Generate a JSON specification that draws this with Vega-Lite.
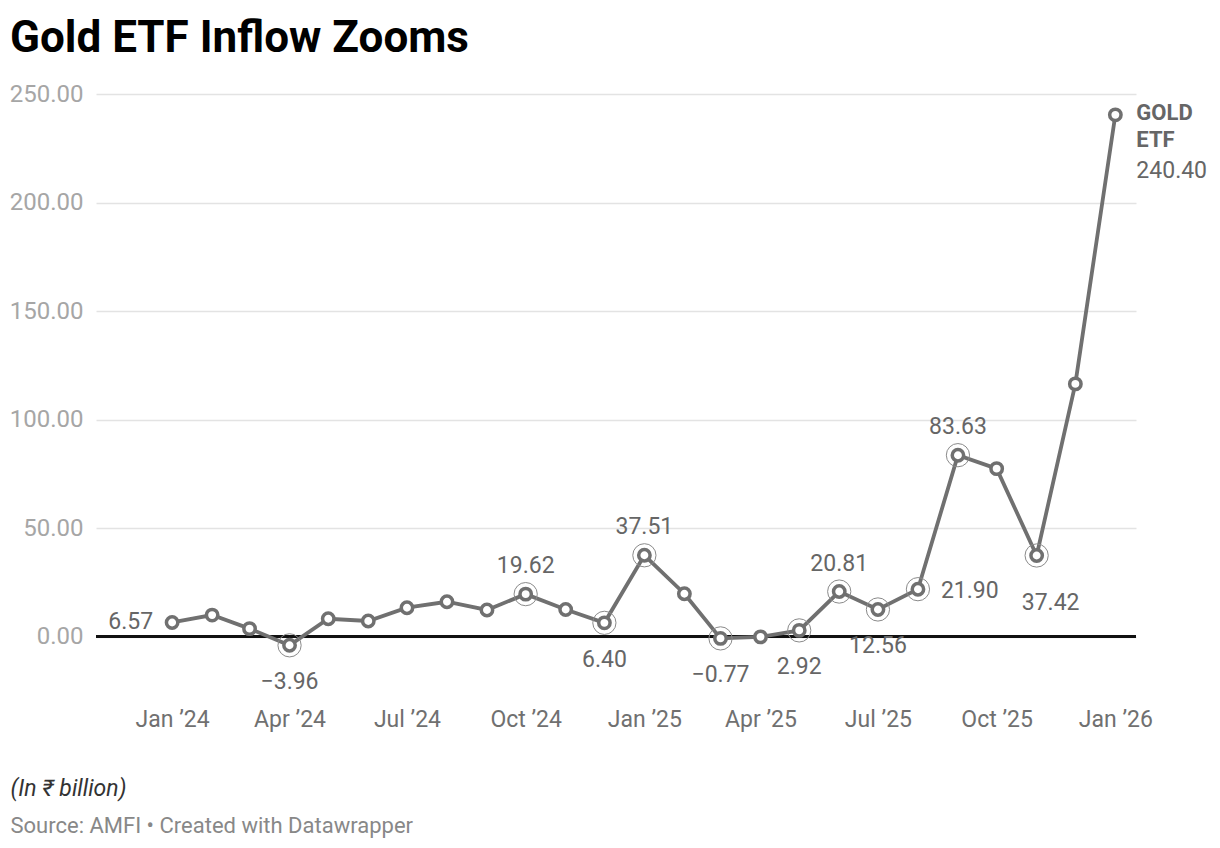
{
  "$schema": "https://vega.github.io/schema/vega-lite/v6.json",
  "width": 1040,
  "height": 597,
  "autosize": {"type": "none"},
  "padding": {"left": 96, "top": 94, "right": 84, "bottom": 157},
  "background": "white",
  "config": {
    "font": "Roboto",
    "view": {"stroke": null}
  },
  "title": {
    "text": "Gold ETF Inflow Zooms",
    "anchor": "start",
    "frame": "group",
    "dx": -86,
    "fontSize": 44,
    "fontWeight": "bold",
    "color": "#000000",
    "font": "Roboto",
    "offset": 21
  },
  "data": {
    "values": [
      {"date": "2024-01-01", "value": 6.57},
      {"date": "2024-02-01", "value": 9.97},
      {"date": "2024-03-01", "value": 3.73},
      {"date": "2024-04-01", "value": -3.96},
      {"date": "2024-05-01", "value": 8.28},
      {"date": "2024-06-01", "value": 7.26},
      {"date": "2024-07-01", "value": 13.37},
      {"date": "2024-08-01", "value": 16.11},
      {"date": "2024-09-01", "value": 12.33},
      {"date": "2024-10-01", "value": 19.62},
      {"date": "2024-11-01", "value": 12.57},
      {"date": "2024-12-01", "value": 6.40},
      {"date": "2025-01-01", "value": 37.51},
      {"date": "2025-02-01", "value": 19.80},
      {"date": "2025-03-01", "value": -0.77},
      {"date": "2025-04-01", "value": -0.06},
      {"date": "2025-05-01", "value": 2.92},
      {"date": "2025-06-01", "value": 20.81},
      {"date": "2025-07-01", "value": 12.56},
      {"date": "2025-08-01", "value": 21.90},
      {"date": "2025-09-01", "value": 83.63},
      {"date": "2025-10-01", "value": 77.43},
      {"date": "2025-11-01", "value": 37.42},
      {"date": "2025-12-01", "value": 116.47},
      {"date": "2026-01-01", "value": 240.40}
    ]
  },
  "encoding": {
    "x": {
      "field": "date",
      "type": "temporal",
      "scale": {
        "type": "utc",
        "domain": [
          {"year": 2023, "month": 11, "date": 3, "utc": true},
          {"year": 2026, "month": 1, "date": 17, "utc": true}
        ]
      },
      "axis": {
        "title": "(In ₹ billion)",
        "titleX": -86,
        "titleY": 97,
        "titleAlign": "left",
        "titleBaseline": "middle",
        "titleAngle": 0,
        "titleFont": "Roboto",
        "titleFontSize": 23,
        "titleFontStyle": "italic",
        "titleFontWeight": "normal",
        "titleColor": "#333333",
        "labelExpr": "utcFormat(datum.value, '%b ’%y')",
        "tickCount": {"interval": "month", "step": 3},
        "labelFontSize": 23,
        "labelColor": "#707070",
        "labelPadding": 17,
        "ticks": false,
        "domain": false,
        "grid": false
      }
    },
    "y": {
      "field": "value",
      "type": "quantitative",
      "scale": {"domain": [-25, 250], "nice": false, "zero": false},
      "axis": {
        "title": "Source: AMFI • Created with Datawrapper",
        "titleX": -86,
        "titleY": 731,
        "titleAlign": "left",
        "titleBaseline": "middle",
        "titleAngle": 0,
        "titleFont": "Roboto",
        "titleFontSize": 22,
        "titleFontWeight": "normal",
        "titleColor": "#888888",
        "values": [0, 50, 100, 150, 200, 250],
        "format": ".2f",
        "labelFontSize": 24,
        "labelColor": "#a6a6a6",
        "labelPadding": 13,
        "ticks": false,
        "domain": false,
        "grid": true,
        "gridColor": "#e3e3e3",
        "gridWidth": 1.5
      }
    }
  },
  "layer": [
    {
      "mark": {"type": "rule", "color": "#111111", "strokeWidth": 2},
      "encoding": {"y": {"datum": 0}, "x": {"value": 0}, "x2": {"value": 1040}}
    },
    {
      "mark": {"type": "line", "color": "#707070", "strokeWidth": 3.8}
    },
    {
      "transform": [{"filter": "indexof(['2024-04','2024-10','2024-12','2025-01','2025-03','2025-05','2025-06','2025-07','2025-08','2025-09','2025-11'], utcFormat(datum.date, '%Y-%m')) >= 0"}],
      "mark": {"type": "point", "shape": "circle", "size": 540, "filled": false, "stroke": "#8a8a8a", "strokeWidth": 1, "opacity": 1}
    },
    {
      "mark": {"type": "point", "shape": "circle", "size": 130, "filled": true, "fill": "#ffffff", "stroke": "#707070", "strokeWidth": 3.5, "opacity": 1}
    },
    {
      "transform": [{"filter": "utcFormat(datum.date, '%Y-%m') == '2024-01'"}],
      "mark": {"type": "text", "align": "right", "baseline": "middle", "dx": -19, "fontSize": 23, "color": "#666666"},
      "encoding": {"text": {"field": "value", "type": "quantitative", "format": ".2f"}}
    },
    {
      "transform": [{"filter": "indexof(['2024-10','2025-01','2025-06','2025-09'], utcFormat(datum.date, '%Y-%m')) >= 0"}],
      "mark": {"type": "text", "align": "center", "baseline": "middle", "dy": -28, "fontSize": 23, "color": "#666666"},
      "encoding": {"text": {"field": "value", "type": "quantitative", "format": ".2f"}}
    },
    {
      "transform": [{"filter": "indexof(['2024-04','2024-12','2025-03','2025-05','2025-07'], utcFormat(datum.date, '%Y-%m')) >= 0"}],
      "mark": {"type": "text", "align": "center", "baseline": "middle", "dy": 37, "fontSize": 23, "color": "#666666"},
      "encoding": {"text": {"field": "value", "type": "quantitative", "format": ".2f"}}
    },
    {
      "transform": [{"filter": "utcFormat(datum.date, '%Y-%m') == '2025-11'"}],
      "mark": {"type": "text", "align": "center", "baseline": "middle", "dx": 14, "dy": 48, "fontSize": 23, "color": "#666666"},
      "encoding": {"text": {"field": "value", "type": "quantitative", "format": ".2f"}}
    },
    {
      "transform": [{"filter": "utcFormat(datum.date, '%Y-%m') == '2025-08'"}],
      "mark": {"type": "text", "align": "left", "baseline": "middle", "dx": 23, "dy": 2, "fontSize": 23, "color": "#666666"},
      "encoding": {"text": {"field": "value", "type": "quantitative", "format": ".2f"}}
    },
    {
      "transform": [{"filter": "utcFormat(datum.date, '%Y-%m') == '2026-01'"}],
      "mark": {"type": "text", "align": "left", "baseline": "top", "dx": 21, "dy": -12, "lineHeight": 27, "fontSize": 22, "fontWeight": "bold", "color": "#666666"},
      "encoding": {"text": {"value": ["GOLD", "ETF"]}}
    },
    {
      "transform": [{"filter": "utcFormat(datum.date, '%Y-%m') == '2026-01'"}],
      "mark": {"type": "text", "align": "left", "baseline": "middle", "dx": 21, "dy": 56, "fontSize": 23, "color": "#666666"},
      "encoding": {"text": {"field": "value", "type": "quantitative", "format": ".2f"}}
    }
  ]
}
